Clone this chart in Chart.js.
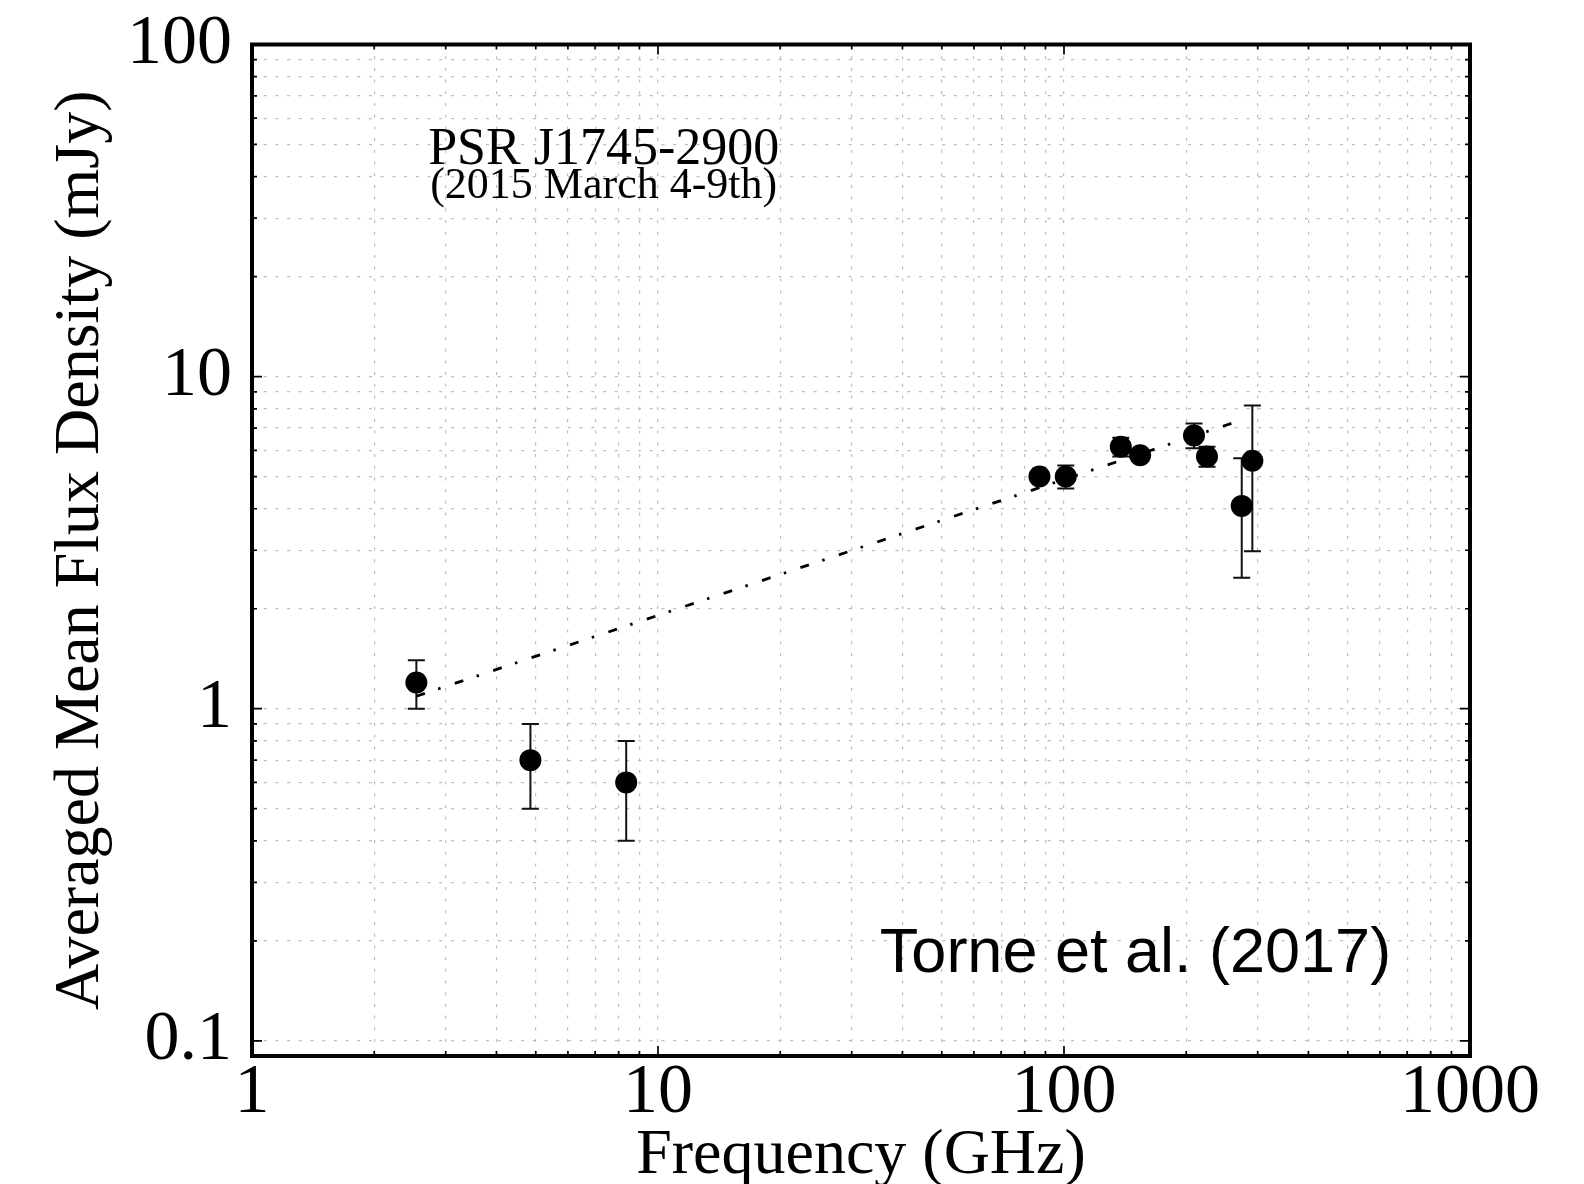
<!DOCTYPE html>
<html>
<head>
<meta charset="utf-8">
<title>PSR J1745-2900 flux density spectrum</title>
<script src="https://cdn.jsdelivr.net/npm/chart.js@4.4.1/dist/chart.umd.min.js"></script>
<style>
  html, body { margin: 0; padding: 0; background: #fff; }
  #wrap { width: 1584px; height: 1184px; }
</style>
</head>
<body>
<div id="wrap"><canvas id="fluxChart"></canvas></div>
<script>
// measured points: frequency (GHz), mean flux (mJy), symmetric error (mJy)
const frequencies = [2.54, 4.85, 8.35, 87, 101, 138, 154, 209, 225, 274, 291];
const fluxDensities = [1.2, 0.7, 0.6, 5.0, 5.0, 6.15, 5.8, 6.65, 5.75, 4.08, 5.58];
const fluxErrors = [0.2, 0.2, 0.2, 0.2, 0.4, 0.4, 0.2, 0.57, 0.4, 1.6, 2.6];

// power-law fit, drawn between its two end points
const fitFrequencies = [2.54, 270];
const fitFluxes = [1.09, 7.36];

// axes
const xDecades = [1, 10, 100, 1000];
const xTickLabels = ['1', '10', '100', '1000'];
const yDecades = [0.1, 1, 10, 100];
const yTickLabels = ['0.1', '1', '10', '100'];
const yMin = 0.09;

// text inside the plot, anchored in data units
const notes = [
  { text: 'PSR J1745-2900', x: 7.35, y: 43.7, font: '52px "Liberation Serif"' },
  { text: '(2015 March 4-9th)', x: 7.35, y: 34.5, font: '44px "Liberation Serif"' },
  { text: 'Torne et al. (2017)', x: 150, y: 0.1615, font: '63px "Liberation Sans"' }
];

const serif = '"Liberation Serif", "Times New Roman", serif';

function logTicks(decades) {
  const ticks = [];
  for (let i = 0; i < decades.length - 1; i++) {
    for (let m = 1; m < 10; m++) ticks.push(decades[i] * m);
  }
  ticks.push(decades[decades.length - 1]);
  return ticks;
}

const xTicks = logTicks(xDecades);
const yTicks = logTicks(yDecades);

const points = frequencies.map((f, i) => ({ x: f, y: fluxDensities[i] }));
const fitLine = fitFrequencies.map((f, i) => ({ x: f, y: fitFluxes[i] }));

// error bars under the markers
const errorBars = {
  id: 'errorBars',
  beforeDatasetsDraw(chart) {
    const { ctx, chartArea: a, scales: { x, y } } = chart;
    ctx.save();
    ctx.beginPath();
    ctx.rect(a.left, a.top, a.right - a.left, a.bottom - a.top);
    ctx.clip();
    ctx.strokeStyle = '#111';
    ctx.lineWidth = 2;
    ctx.beginPath();
    frequencies.forEach((f, i) => {
      const px = x.getPixelForValue(f);
      const top = y.getPixelForValue(fluxDensities[i] + fluxErrors[i]);
      const bot = y.getPixelForValue(fluxDensities[i] - fluxErrors[i]);
      ctx.moveTo(px, top); ctx.lineTo(px, bot);
      ctx.moveTo(px - 8.5, top); ctx.lineTo(px + 8.5, top);
      ctx.moveTo(px - 8.5, bot); ctx.lineTo(px + 8.5, bot);
    });
    ctx.stroke();
    ctx.restore();
  }
};

// thick box with inward ticks on all four sides, plus the notes
const frame = {
  id: 'frame',
  afterDraw(chart) {
    const { ctx, chartArea: a, scales: { x, y } } = chart;
    ctx.save();
    ctx.strokeStyle = '#000';
    ctx.lineWidth = 1.7;
    ctx.beginPath();
    xTicks.forEach(v => {
      const px = x.getPixelForValue(v);
      const len = xDecades.includes(v) ? 10 : 5;
      ctx.moveTo(px, a.bottom); ctx.lineTo(px, a.bottom - len);
      ctx.moveTo(px, a.top); ctx.lineTo(px, a.top + len);
    });
    yTicks.forEach(v => {
      const py = y.getPixelForValue(v);
      const len = yDecades.includes(v) ? 10 : 5;
      ctx.moveTo(a.left, py); ctx.lineTo(a.left + len, py);
      ctx.moveTo(a.right, py); ctx.lineTo(a.right - len, py);
    });
    ctx.stroke();
    ctx.lineWidth = 4;
    ctx.strokeRect(a.left, a.top, a.right - a.left, a.bottom - a.top);

    ctx.fillStyle = '#000';
    ctx.textAlign = 'center';
    ctx.textBaseline = 'alphabetic';
    notes.forEach(n => {
      ctx.font = n.font;
      ctx.fillText(n.text, x.getPixelForValue(n.x), y.getPixelForValue(n.y));
    });
    ctx.restore();
  }
};

const gridStyle = { color: '#bdbdbd', lineWidth: 1.2, drawTicks: false };
const gridBorder = { display: false, dash: [3, 8.7] };

new Chart(document.getElementById('fluxChart'), {
  type: 'scatter',
  data: {
    datasets: [
      {
        label: 'Flux density',
        data: points,
        pointRadius: 11,
        pointHoverRadius: 11,
        pointBackgroundColor: '#000',
        pointBorderWidth: 0,
        order: 0
      },
      {
        label: 'Fit',
        data: fitLine,
        showLine: true,
        borderColor: '#000',
        borderWidth: 2.8,
        borderDash: [9, 14, 2.5, 15],
        pointRadius: 0,
        fill: false,
        order: 1
      }
    ]
  },
  options: {
    responsive: true,
    maintainAspectRatio: false,
    animation: false,
    layout: { padding: { left: 0, right: 114, top: 44.5, bottom: 0 } },
    plugins: {
      legend: { display: false },
      tooltip: { enabled: false }
    },
    scales: {
      x: {
        type: 'logarithmic',
        min: 1,
        max: 1000,
        afterBuildTicks: s => { s.ticks = xTicks.map(v => ({ value: v })); },
        afterFit: s => { s.height = 128; s.paddingLeft = 0; s.paddingRight = 0; },
        grid: gridStyle,
        border: gridBorder,
        ticks: {
          autoSkip: false,
          maxRotation: 0,
          padding: 3,
          color: '#000',
          font: { family: serif, size: 70, lineHeight: 1 },
          callback: v => {
            const i = xDecades.indexOf(v);
            return i >= 0 ? xTickLabels[i] : '';
          }
        },
        title: {
          display: true,
          text: 'Frequency (GHz)',
          color: '#000',
          font: { family: serif, size: 64, lineHeight: 0.86 },
          padding: { top: 0, bottom: 0 }
        }
      },
      y: {
        type: 'logarithmic',
        min: yMin,
        max: 100,
        afterBuildTicks: s => { s.ticks = yTicks.map(v => ({ value: v })); },
        afterFit: s => { s.width = 252; s.paddingTop = 0; s.paddingBottom = 0; },
        grid: gridStyle,
        border: gridBorder,
        ticks: {
          autoSkip: false,
          padding: 20,
          color: '#000',
          font: { family: serif, size: 70, lineHeight: 1 },
          callback: v => {
            const i = yDecades.indexOf(v);
            return i >= 0 ? yTickLabels[i] : '';
          }
        },
        title: {
          display: true,
          text: 'Averaged Mean Flux Density (mJy)',
          color: '#000',
          font: { family: serif, size: 64, lineHeight: 1 },
          padding: { top: 49, bottom: 0 }
        }
      }
    }
  },
  plugins: [errorBars, frame]
});
</script>
</body>
</html>
